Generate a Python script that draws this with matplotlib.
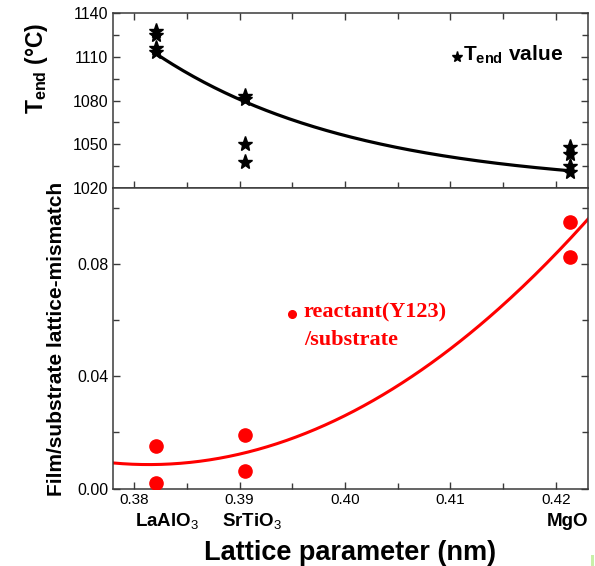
import numpy as np
import matplotlib.pyplot as plt
from matplotlib.ticker import MultipleLocator

plt.rcParams['font.family'] = ['Liberation Sans', 'DejaVu Sans']
plt.rcParams['mathtext.fontset'] = 'custom'
plt.rcParams['mathtext.rm'] = 'Liberation Sans'
plt.rcParams['mathtext.bf'] = 'Liberation Sans:bold'

# substrate lattice parameters (nm)
substrates = ['LaAlO$_3$', 'SrTiO$_3$', 'MgO']
lattice = [0.3821, 0.3905, 0.4213]

# T_end measurements (deg C), several runs per substrate
t_end_x = [0.3821, 0.3821, 0.3821, 0.3821,
           0.3905, 0.3905, 0.3905, 0.3905,
           0.4213, 0.4213, 0.4213, 0.4213]
t_end = [1128, 1125, 1116, 1113,
         1083, 1081, 1050, 1038,
         1048, 1043, 1035, 1031]

# exponential decay trend for T_end
t_fit_y0 = 1020.2
t_fit_amp = 91.8
t_fit_decay = 0.019
t_fit_start = 0.3821
t_fit_stop = 0.4213

# reactant (Y123) / substrate mismatch
mis_x = [0.3821, 0.3821, 0.3905, 0.3905, 0.4213, 0.4213]
mis = [0.0151, 0.0020, 0.0192, 0.0062, 0.0950, 0.0825]

spine_col = '#3a3a3a'

fig = plt.figure(figsize=(5.95, 5.66), dpi=100)
ax = fig.add_axes([0.1899, 0.6678, 0.7975, 0.3092])
ax2 = fig.add_axes([0.1899, 0.1369, 0.7975, 0.5309])

# ---- top panel: T_end
xx = np.linspace(t_fit_start, t_fit_stop, 200)
ax.plot(xx, t_fit_y0 + t_fit_amp * np.exp(-(xx - t_fit_start) / t_fit_decay),
        color='black', lw=2.3, zorder=2)
ax.plot(t_end_x, t_end, '*', color='black', ms=11, zorder=3)

ax.set_xlim(0.378, 0.4230)
ax.set_ylim(1020, 1140)
ax.yaxis.set_major_locator(MultipleLocator(30))
ax.yaxis.set_minor_locator(MultipleLocator(15))
ax.xaxis.set_major_locator(MultipleLocator(0.01))
ax.xaxis.set_minor_locator(MultipleLocator(0.005))
ax.tick_params(which='both', direction='in', top=True, right=True,
               labelbottom=False, color=spine_col)
ax.tick_params(which='major', length=5, width=1)
ax.tick_params(which='minor', length=4, width=1)
ax.tick_params(axis='y', labelsize=11.5)

ax.plot([0.4106], [1109.5], '*', color='black', ms=8)
ax.text(0.4112, 1111, r'$\mathbf{T_{end}}$ value', fontsize=15,
        fontweight='bold', va='center', ha='left')

# ---- bottom panel: lattice mismatch
coef = np.polyfit(mis_x, mis, 2)
xx2 = np.linspace(0.378, 0.4235, 200)
ax2.plot(xx2, np.polyval(coef, xx2), color='red', lw=2.2, zorder=2)
ax2.plot(mis_x, mis, 'o', color='red', ms=9.5, zorder=3)

ax2.set_xlim(0.378, 0.4230)
ax2.set_ylim(0, 0.107)
ax2.yaxis.set_major_locator(MultipleLocator(0.04))
ax2.yaxis.set_minor_locator(MultipleLocator(0.02))
ax2.xaxis.set_major_locator(MultipleLocator(0.01))
ax2.xaxis.set_minor_locator(MultipleLocator(0.005))
ax2.yaxis.set_major_formatter(lambda v, p: f'{v:.2f}')
ax2.tick_params(which='both', direction='in', top=False, right=True,
                color=spine_col)
ax2.tick_params(which='major', length=5, width=1)
ax2.tick_params(which='minor', length=4, width=1)
ax2.tick_params(axis='y', labelsize=11.5)
ax2.tick_params(axis='x', labelsize=11, pad=3)

ax2.plot([0.3950], [0.0620], 'o', color='red', ms=5.5)
ax2.text(0.3961, 0.0628, 'reactant(Y123)', color='red', fontsize=16,
         fontweight='bold', family='Liberation Serif', va='center')
ax2.text(0.3961, 0.0530, '/substrate', color='red', fontsize=16,
         fontweight='bold', family='Liberation Serif', va='center')

for a in (ax, ax2):
    for s in a.spines.values():
        s.set_color(spine_col)
        s.set_linewidth(1.1)

# substrate names under their lattice parameter
name_x = [167, 252, 567]
for name, px in zip(substrates, name_x):
    fig.text(px / 595, 1 - 522 / 566, name, fontsize=13.5, fontweight='bold',
             ha='center', va='center')

fig.text(350 / 595, 1 - 553 / 566, 'Lattice parameter (nm)', fontsize=19.5,
         fontweight='bold', ha='center', va='center')
fig.text(57 / 595, 1 - 339 / 566, 'Film/substrate lattice-mismatch',
         fontsize=15, fontweight='bold', rotation=90, ha='center', va='center')
fig.text(36 / 595, 1 - 68 / 566, r'$\mathbf{T_{end}}$ (°C)', fontsize=16.5,
         fontweight='bold', rotation=90, ha='center', va='center')

fig.patches.append(plt.Rectangle((591 / 595, 0), 3 / 595, 11 / 566,
                                 transform=fig.transFigure,
                                 color='#c8f0a8', lw=0))

fig.savefig('out.png', dpi=100)
